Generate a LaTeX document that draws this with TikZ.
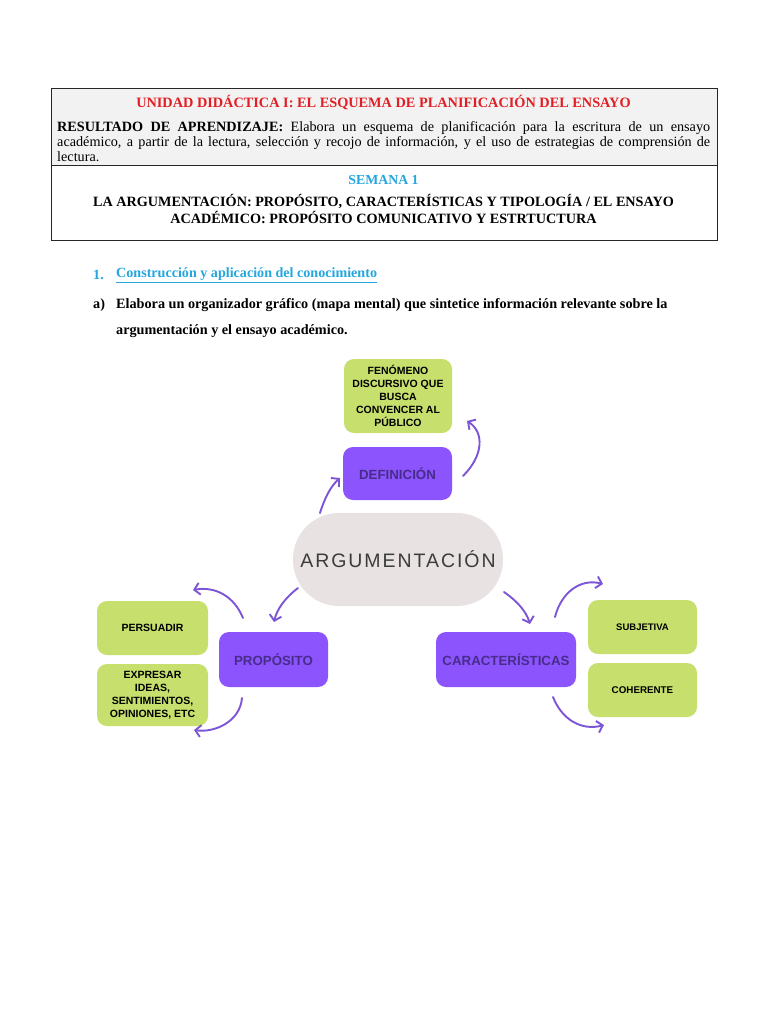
\documentclass[tikz,border=0pt]{standalone}
\usepackage{fontspec}
\setmainfont{Liberation Serif}
\newfontfamily\diagfont{Liberation Sans}
\newfontfamily\argfont[LetterSpace=10]{Liberation Sans}
\usetikzlibrary{arrows.meta}
\definecolor{hdrred}{RGB}{226,30,36}
\definecolor{hdrblue}{RGB}{36,166,222}
\definecolor{hdrgray}{RGB}{242,242,242}
\definecolor{limegreen}{RGB}{199,223,108}
\definecolor{boxpurple}{RGB}{140,84,252}
\definecolor{txtpurple}{RGB}{72,44,140}
\definecolor{argfill}{RGB}{232,226,226}
\definecolor{argtext}{RGB}{60,60,60}
\definecolor{arrowpurple}{RGB}{124,86,214}
\tikzset{
  greenbox/.style={fill=limegreen, rounded corners=10pt, align=center, inner sep=2pt,
    font=\diagfont\bfseries\fontsize{10.5}{13}\selectfont, text=black},
  purplebox/.style={fill=boxpurple, rounded corners=10pt, align=center, inner sep=2pt,
    font=\diagfont\bfseries\fontsize{13.3}{15}\selectfont, text=txtpurple},
  curvearrow/.style={draw=arrowpurple, line width=1.9pt, line cap=round,
    -{Straight Barb[length=5.5pt,width=12pt,line width=1.9pt]}},
  hdr/.style={inner sep=0pt},
}
\begin{document}
\begin{tikzpicture}[x=1pt,y=-1pt]
\useasboundingbox[fill=white] (0,0) rectangle (768,1024);
% header table
\fill[hdrgray] (51,88) rectangle (717,165);
\draw[line width=0.9pt, draw=black!85] (51,88) rectangle (717,240);
\draw[line width=0.9pt, draw=black!85] (51,165) -- (717,165);
\node[hdr, text=hdrred, font=\bfseries\fontsize{14.3}{16}\selectfont] (title) at (383.5,103)
  {UNIDAD DIDÁCTICA I: EL ESQUEMA DE PLANIFICACIÓN DEL ENSAYO};
\node[hdr, anchor=north west, text width=653pt, align=justify, font=\fontsize{14.2}{15}\selectfont] (result) at (57,121)
  {\textbf{RESULTADO DE APRENDIZAJE:} Elabora un esquema de planificación para la escritura de un ensayo\linebreak académico, a partir de la lectura, selección y recojo de información, y el uso de estrategias de comprensión de\linebreak lectura.};
\node[hdr, text=hdrblue, font=\bfseries\fontsize{13.8}{15}\selectfont] (semana) at (383.5,180) {SEMANA 1};
\node[hdr, font=\bfseries\fontsize{14.2}{17}\selectfont, align=center] (tema) at (383.5,209.5)
  {LA ARGUMENTACIÓN: PROPÓSITO, CARACTERÍSTICAS Y TIPOLOGÍA / EL ENSAYO\\ACADÉMICO: PROPÓSITO COMUNICATIVO Y ESTRTUCTURA};
% section heading
\node[hdr, anchor=west, text=hdrblue, font=\bfseries\fontsize{14.1}{15}\selectfont] (num) at (93,275) {1.};
\node[hdr, anchor=west, text=hdrblue, font=\bfseries\fontsize{14.1}{15}\selectfont] (sec) at (116,275) {\underline{Construcción y aplicación del conocimiento}};
\node[hdr, anchor=west, font=\bfseries\fontsize{14.2}{15}\selectfont] (let) at (93,305) {a)};
\node[hdr, anchor=west, font=\bfseries\fontsize{14.2}{15}\selectfont] (instr1) at (116,305) {Elabora un organizador gráfico (mapa mental) que sintetice información relevante sobre la};
\node[hdr, anchor=west, font=\bfseries\fontsize{14.2}{15}\selectfont] (instr2) at (116,331) {argumentación y el ensayo académico.};
% diagram
\node[greenbox, minimum width=108pt, minimum height=74pt] (fen) at (398,396)
  {FENÓMENO\\DISCURSIVO QUE\\BUSCA\\CONVENCER AL\\PÚBLICO};
\node[purplebox, minimum width=109pt, minimum height=53pt] (def) at (397.5,473.5) {DEFINICIÓN};
\node[fill=argfill, rounded corners=46pt, minimum width=210pt, minimum height=93pt, inner sep=0pt,
  font=\argfont\fontsize{19.5}{21}\selectfont, text=argtext] (arg) at (398,559.5) {ARGUMENTACIÓN};
\node[purplebox, minimum width=109pt, minimum height=55pt] (prop) at (273.5,659.5) {PROPÓSITO};
\node[greenbox, minimum width=111pt, minimum height=54pt] (pers) at (152.5,628) {PERSUADIR};
\node[greenbox, minimum width=111pt, minimum height=62pt] (expr) at (152.5,695)
  {EXPRESAR\\IDEAS,\\SENTIMIENTOS,\\OPINIONES, ETC};
\node[purplebox, minimum width=140pt, minimum height=55pt] (car) at (506,659.5) {CARACTERÍSTICAS};
\node[greenbox, minimum width=109pt, minimum height=54pt, font=\diagfont\bfseries\fontsize{9.5}{11}\selectfont] (subj) at (642.5,627) {SUBJETIVA};
\node[greenbox, minimum width=109pt, minimum height=54pt, font=\diagfont\bfseries\fontsize{9.8}{11}\selectfont] (coh) at (642.5,690) {COHERENTE};
% arrow end points
\coordinate (a1s) at (320,513); \coordinate (a1e) at (340,478);
\coordinate (a2s) at (463,476); \coordinate (a2e) at (467,421);
\coordinate (a3s) at (298,588); \coordinate (a3e) at (274,622);
\coordinate (a4s) at (243,618); \coordinate (a4e) at (193,590);
\coordinate (a5s) at (242,698); \coordinate (a5e) at (194,730);
\coordinate (a6s) at (504,592); \coordinate (a6e) at (530,624);
\coordinate (a7s) at (555,617); \coordinate (a7e) at (603,584);
\coordinate (a8s) at (553,697); \coordinate (a8e) at (604,725);
\draw[curvearrow] (a1s) .. controls (325,497) and (331,486) .. (a1e);
\draw[curvearrow] (a2s) .. controls (484,455) and (484,432) .. (a2e);
\draw[curvearrow] (a3s) .. controls (285,598) and (277,609) .. (a3e);
\draw[curvearrow] (a4s) .. controls (234,596) and (215,586) .. (a4e);
\draw[curvearrow] (a5s) .. controls (240,722) and (214,733) .. (a5e);
\draw[curvearrow] (a6s) .. controls (517,601) and (526,611) .. (a6e);
\draw[curvearrow] (a7s) .. controls (561,593) and (580,578) .. (a7e);
\draw[curvearrow] (a8s) .. controls (562,720) and (582,731) .. (a8e);
\end{tikzpicture}
\end{document}
